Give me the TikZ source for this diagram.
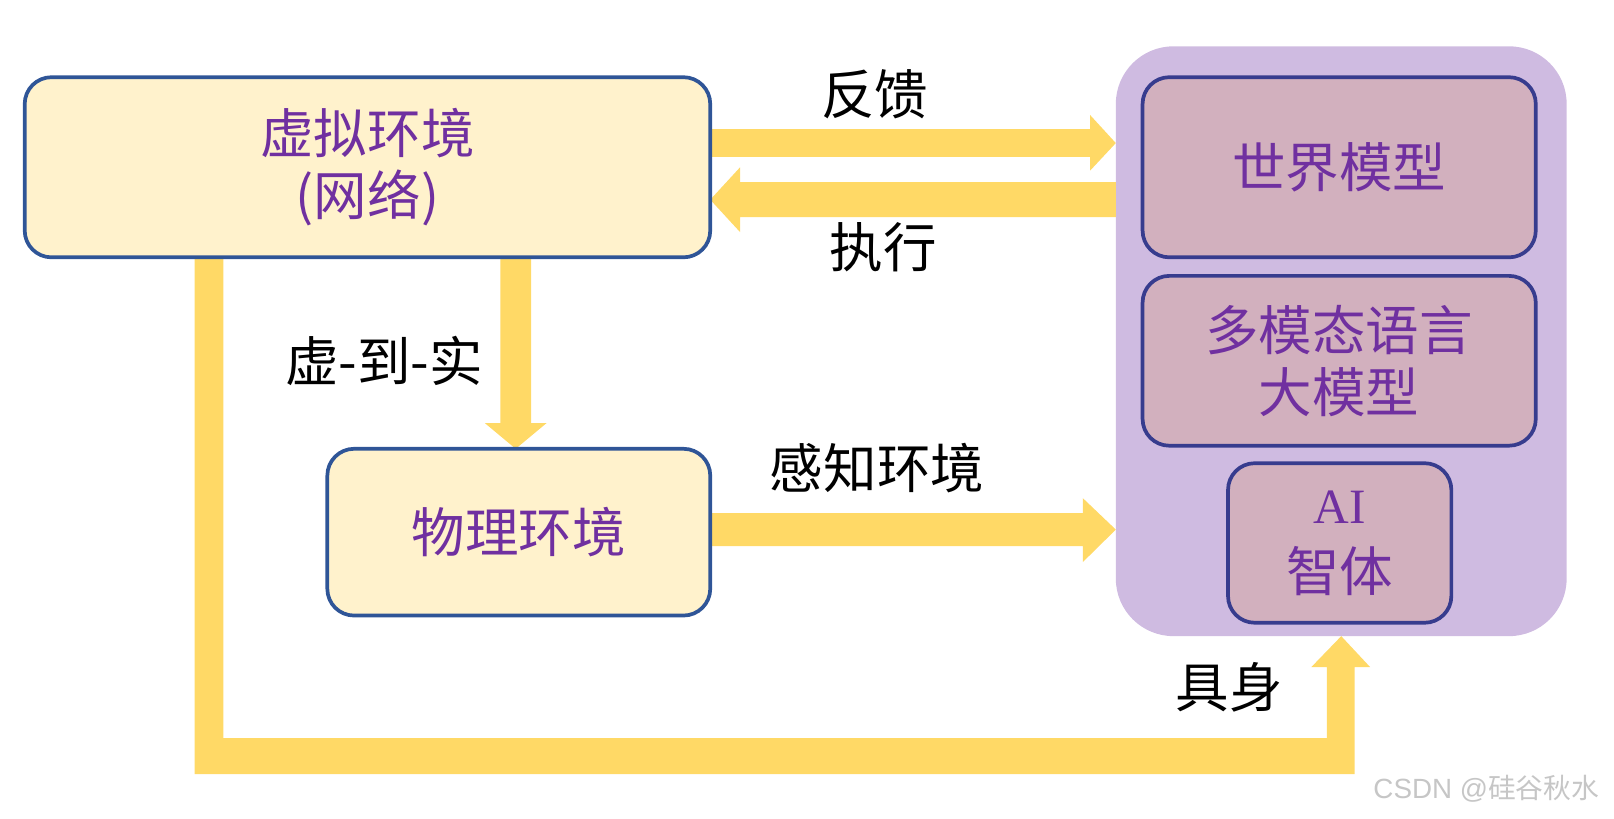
\documentclass[tikz,border=0pt]{standalone}
\usepackage{fontspec}
\newfontfamily\cjk{Noto Sans CJK SC}
\newfontfamily\lsans{Liberation Sans}
\newfontfamily\lserif{Liberation Serif}
\definecolor{arrowy}{HTML}{FFD966}
\definecolor{envfill}{HTML}{FFF2CC}
\definecolor{envline}{HTML}{2F5597}
\definecolor{contfill}{HTML}{CFBBE1}
\definecolor{modelfill}{HTML}{D2B0BE}
\definecolor{modelline}{HTML}{373C8E}
\definecolor{purpletext}{HTML}{7030A0}
\definecolor{wmgray}{HTML}{C6C6C6}
\pgfdeclarelayer{back}
\pgfdeclarelayer{mid}
\pgfsetlayers{back,mid,main}
\begin{document}
\begin{tikzpicture}[x=1pt,y=-1pt,
  arrowfill/.style={fill=arrowy},
  boxbase/.style={line width=3.6pt, inner sep=0pt, outer sep=0pt, align=center, text=purpletext,
    font=\cjk\fontsize{52}{60}\selectfont},
  envbox/.style={boxbase, draw=envline, fill=envfill, rounded corners=26pt},
  modelbox/.style={boxbase, draw=modelline, fill=modelfill, rounded corners=26pt},
  container/.style={fill=contfill, draw=none, rounded corners=56pt, inner sep=0pt, outer sep=0pt},
  lbl/.style={font=\cjk\fontsize{52}{60}\selectfont, text=black, inner sep=0pt}]
\useasboundingbox (0,0) rectangle (1568,795);

% boxes
\node[envbox, minimum width=666pt, minimum height=175pt] (virt) at (357,162.5)
  {虚拟环境\\(网络)};
\node[envbox, minimum width=372pt, minimum height=162pt] (phys) at (504,517) {物理环境};
\begin{pgfonlayer}{back}
\node[container, minimum width=438pt, minimum height=573pt] (cont) at (1303,331.5) {};
\end{pgfonlayer}
\node[modelbox, minimum width=382pt, minimum height=175pt] (world) at (1301,162.5) {世界模型};
\node[modelbox, minimum width=382pt, minimum height=165pt] (multi) at (1301,350.5)
  {多模态语言\\大模型};
\node[modelbox, minimum width=217pt, minimum height=155pt] (agent) at (1301.5,527.5)
  {{\lserif\fontsize{48}{60}\selectfont AI}\\[6pt]智体};

% arrows
\begin{pgfonlayer}{mid}
\fill[arrowfill] (virt.east |- 0,125.5) -- (1059,125.5) -- (1059,111.7) -- (cont.west |- 0,139)
  -- (1059,165.8) -- (1059,152.5) -- (virt.east |- 0,152.5) -- cycle;
\fill[arrowfill] (cont.west |- 0,177) -- (719,177) -- (719,162.5) -- (virt.east |- 0,194)
  -- (719,225.5) -- (719,211) -- (cont.west |- 0,211) -- cycle;
\fill[arrowfill] (486,0 |- virt.south) -- (486,411) -- (471,411) -- (501,0 |- phys.north)
  -- (531,411) -- (516,411) -- (516,0 |- virt.south) -- cycle;
\fill[arrowfill] (phys.east |- 0,498.5) -- (1052,498.5) -- (1052,484) -- (cont.west |- 0,514.5)
  -- (1052,546) -- (1052,530.5) -- (phys.east |- 0,530.5) -- cycle;
\fill[arrowfill] (189,0 |- virt.south) -- (189,752) -- (1316,752) -- (1316,648) -- (1331,648)
  -- (cont.south) -- (1274,648) -- (1289,648) -- (1289,717) -- (217,717)
  -- (217,0 |- virt.south) -- cycle;
\end{pgfonlayer}

% labels
\node[lbl] (fk) at (850,92) {反馈};
\node[lbl] (zx) at (858,240) {执行};
\node[lbl] (v2r) at (373,351) {虚-到-实};
\node[lbl] (gz) at (852,455) {感知环境};
\node[lbl] (js) at (1194,668) {具身};

% watermark
\node[font=\lsans\fontsize{27}{30}\selectfont, text=wmgray, inner sep=0pt] (wm) at (1444,766)
  {CSDN @{\cjk 硅谷秋水}};
\end{tikzpicture}
\end{document}
